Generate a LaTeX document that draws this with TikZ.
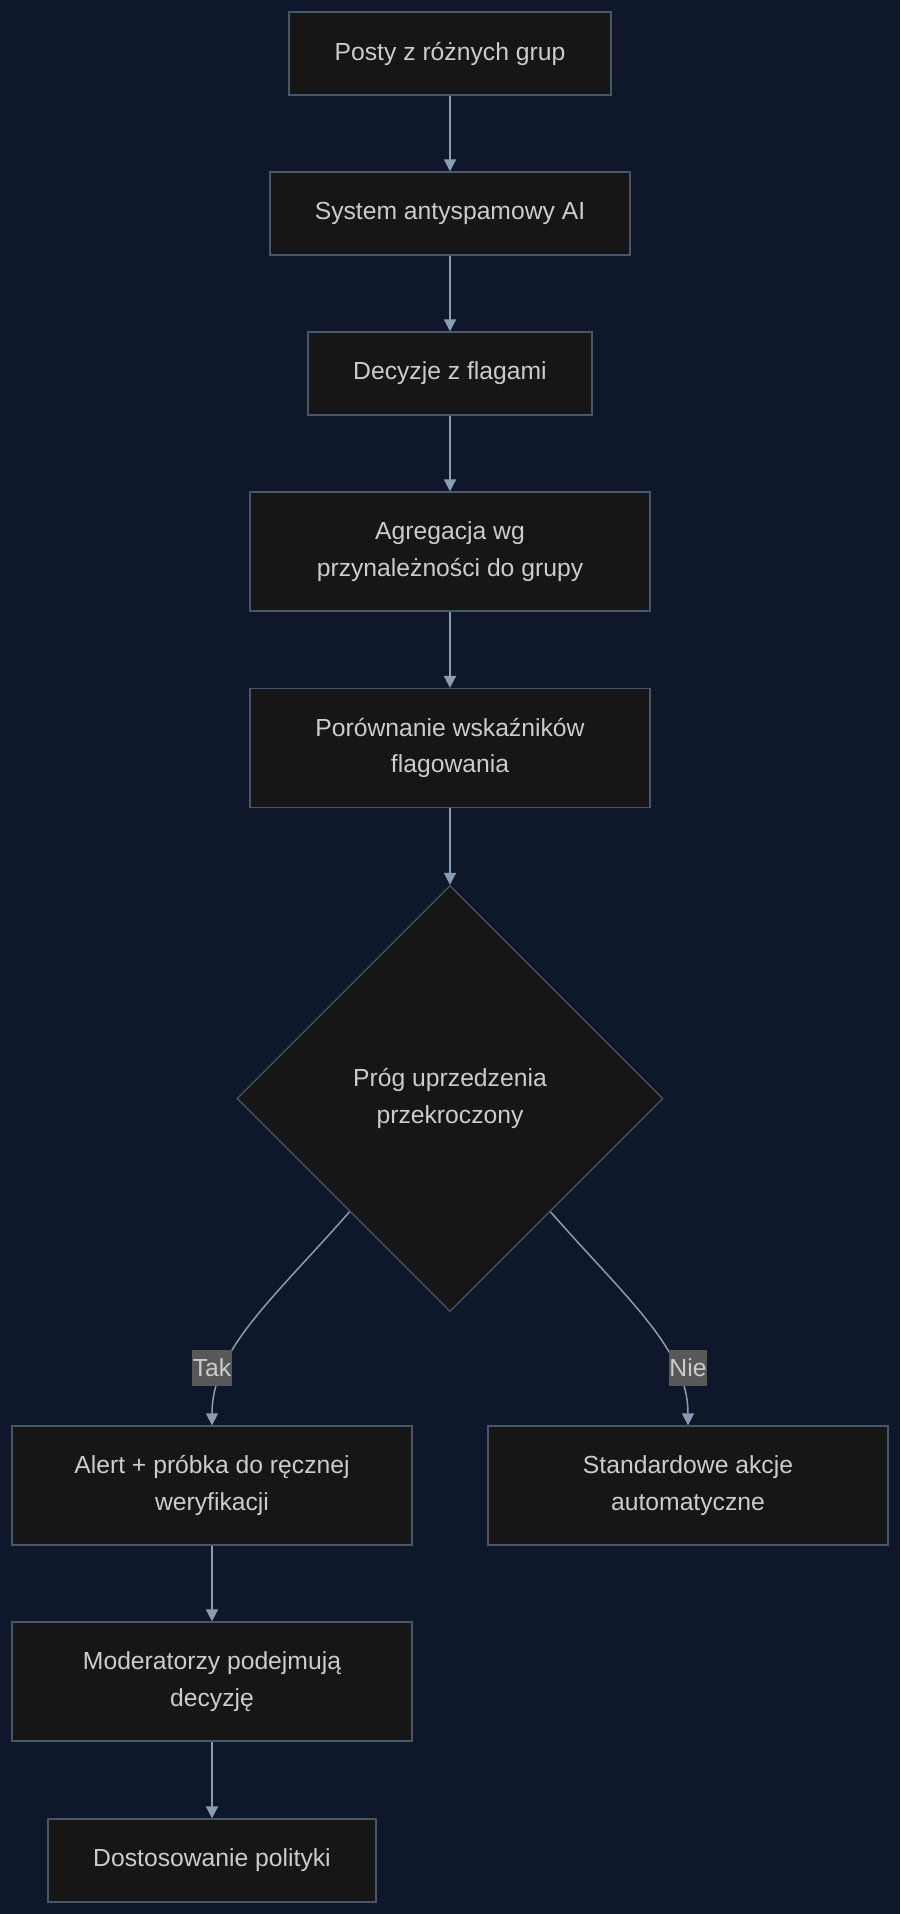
\documentclass[tikz,border=0pt]{standalone}
\usepackage{fontspec}
\setmainfont{Liberation Sans}
\usetikzlibrary{shapes.geometric,arrows.meta,calc}
\definecolor{bgcol}{HTML}{0F172A}
\definecolor{boxfill}{HTML}{161616}
\definecolor{boxline}{HTML}{4A5568}
\definecolor{edgecol}{HTML}{8C9BB4}
\definecolor{txtcol}{HTML}{CCCCCC}
\definecolor{lblbg}{HTML}{585858}
\begin{document}
\begin{tikzpicture}[x=1pt,y=-1pt,
  proc/.style={draw=boxline, fill=boxfill, line width=1.3pt, text=txtcol,
    font=\fontsize{24.7}{36.8}\selectfont, align=center, inner sep=0pt, minimum height=83pt},
  proctwo/.style={proc, minimum height=119pt},
  decision/.style={diamond, aspect=1, draw=boxline, fill=boxfill, line width=1.3pt, text=txtcol,
    font=\fontsize{24.7}{36.8}\selectfont, align=center, inner sep=0pt,
    minimum width=426pt, minimum height=426pt},
  conn/.style={draw=edgecol, line width=1.8pt, -{Triangle[length=12pt,width=12pt]}},
  lbl/.style={fill=lblbg, text=txtcol, font=\fontsize{24.7}{36.8}\selectfont,
    inner xsep=0.5pt, inner ysep=0pt, minimum height=36pt}]
\fill[bgcol] (0,0) rectangle (900,1914);
\useasboundingbox (0,0) rectangle (900,1914);

\node[proc, minimum width=322pt] (n1) at (450,53.5) {Posty z różnych grup};
\node[proc, minimum width=360pt] (n2) at (450,213.5) {System antyspamowy AI};
\node[proc, minimum width=284pt] (n3) at (450,373.5) {Decyzje z flagami};
\node[proctwo, minimum width=400pt] (n4) at (450,551.5) {Agregacja wg\\przynależności do grupy};
\node[proctwo, minimum width=400pt] (n5) at (450,748) {Porównanie wskaźników\\flagowania};
\node[decision] (n6) at (450,1098.5) {Próg uprzedzenia\\przekroczony};
\node[proctwo, minimum width=400pt] (n7) at (212,1485.5) {Alert + próbka do ręcznej\\weryfikacji};
\node[proctwo, minimum width=400pt] (n8) at (688,1485.5) {Standardowe akcje\\automatyczne};
\node[proctwo, minimum width=400pt] (n9) at (212,1681.5) {Moderatorzy podejmują\\decyzję};
\node[proc, minimum width=328pt] (n10) at (212,1860.5) {Dostosowanie polityki};

\coordinate (tstart) at ($(n6.west)!0.53!(n6.south)$);
\coordinate (nstart) at ($(n6.east)!0.53!(n6.south)$);

\draw[conn] (n1) -- (n2);
\draw[conn] (n2) -- (n3);
\draw[conn] (n3) -- (n4);
\draw[conn] (n4) -- (n5);
\draw[conn] (n5) -- (n6);
\draw[conn, line width=1.5pt] (tstart) .. controls (272,1300) and (212,1350) .. (n7.north);
\draw[conn, line width=1.5pt] (nstart) .. controls (628,1300) and (688,1350) .. (n8.north);
\draw[conn] (n7) -- (n9);
\draw[conn] (n9) -- (n10);

\node[lbl] (ltak) at (212,1368) {Tak};
\node[lbl] (lnie) at (688,1368) {Nie};
\end{tikzpicture}
\end{document}
